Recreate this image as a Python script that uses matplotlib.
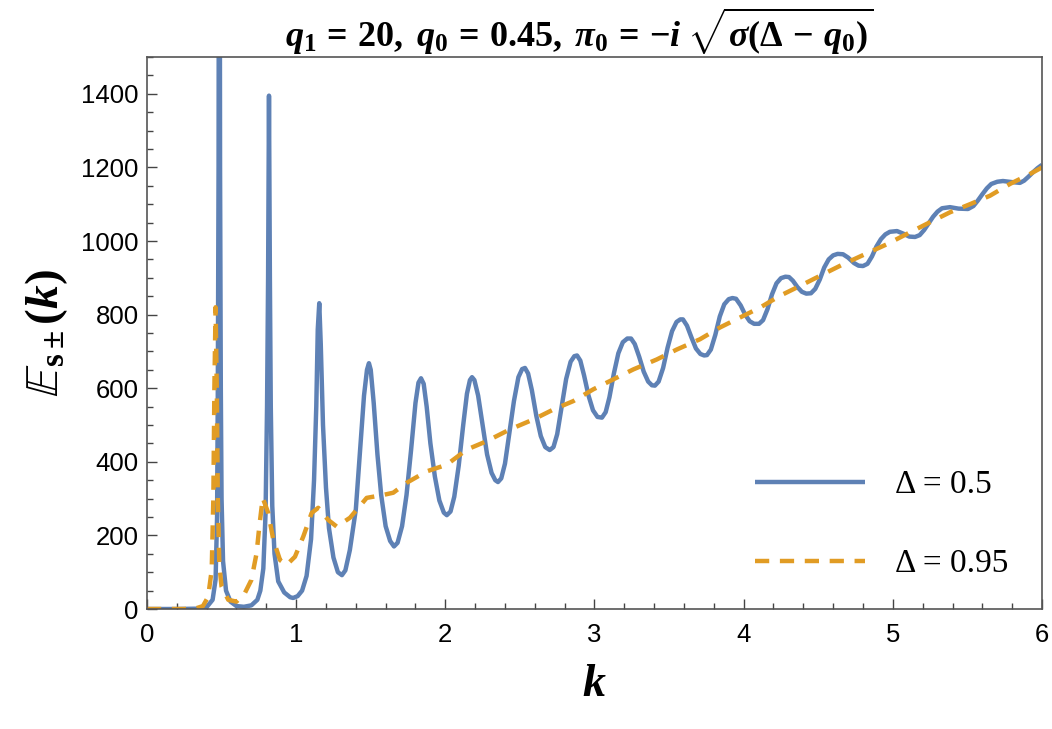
import matplotlib
matplotlib.use("Agg")
import matplotlib.pyplot as plt
from matplotlib.ticker import MultipleLocator

plt.rcParams['mathtext.fontset'] = 'custom'
plt.rcParams['mathtext.rm'] = 'Liberation Serif:bold'
plt.rcParams['mathtext.it'] = 'Liberation Serif:italic:bold'
plt.rcParams['mathtext.bf'] = 'Liberation Serif:bold'

# Delta = 0.5 (solid blue)
k_a = [0.00, 0.20, 0.35, 0.40, 0.44, 0.46, 0.47, 0.475, 0.48, 0.485, 0.49, 0.495,
       0.50, 0.51, 0.53, 0.56, 0.60, 0.65, 0.70, 0.74, 0.76, 0.78, 0.795, 0.805,
       0.812, 0.818, 0.824, 0.83, 0.84, 0.855, 0.88, 0.92, 0.96, 0.98, 1.01, 1.04,
       1.07, 1.10, 1.12, 1.135, 1.145, 1.155, 1.165, 1.18, 1.20, 1.22, 1.25, 1.28,
       1.307, 1.33, 1.36,
       1.40, 1.43, 1.455, 1.475, 1.488, 1.50, 1.52, 1.545, 1.57, 1.60, 1.63, 1.656, 1.68,
       1.71, 1.74, 1.77, 1.80, 1.82, 1.837, 1.855, 1.875, 1.90, 1.93, 1.96, 1.99, 2.01, 2.035,
       2.06, 2.09, 2.12, 2.145, 2.165, 2.179, 2.195, 2.22, 2.25, 2.28, 2.31, 2.335, 2.353, 2.375,
       2.40, 2.43, 2.46, 2.49, 2.515, 2.534, 2.555, 2.58, 2.61, 2.64, 2.67, 2.70, 2.725,
       2.75, 2.78, 2.81, 2.84, 2.865, 2.883, 2.905, 2.93, 2.96, 2.99, 3.02, 3.05, 3.075,
       3.10, 3.13, 3.16, 3.19, 3.22, 3.245, 3.27, 3.30, 3.33, 3.36, 3.385, 3.405, 3.43,
       3.46, 3.49, 3.52, 3.55, 3.575, 3.593, 3.62, 3.65, 3.68, 3.71, 3.735, 3.754, 3.78,
       3.81, 3.84, 3.87, 3.90, 3.925, 3.949, 3.98, 4.01, 4.04, 4.07, 4.103, 4.13,
       4.16, 4.19, 4.22, 4.25, 4.28, 4.304, 4.33, 4.36, 4.39, 4.42, 4.451, 4.48,
       4.51, 4.54, 4.57, 4.60, 4.63, 4.666, 4.70, 4.74, 4.77, 4.80, 4.83, 4.86,
       4.89, 4.92, 4.95, 4.98, 5.028, 5.07, 5.11, 5.149, 5.18, 5.21, 5.24,
       5.27, 5.30, 5.33, 5.383, 5.44, 5.504, 5.54, 5.57, 5.60, 5.63, 5.66, 5.70,
       5.738, 5.80, 5.852, 5.88, 5.91, 5.94, 5.97, 6.00]
E_a = [0, 0, 1, 5, 25, 80, 250, 600, 1200, 3000, 1200, 600,
       300, 130, 50, 20, 8, 6, 10, 25, 50, 110, 260, 550,
       900, 1395, 900, 550, 280, 150, 75, 45, 32, 30, 35, 50,
       90, 190, 350, 550, 760, 831, 720, 500, 330, 220, 140, 100,
       92, 105, 160,
       270, 440, 580, 650, 668, 650, 560, 420, 310, 225, 185, 170, 180,
       225, 310, 430, 560, 615, 627, 612, 550, 450, 360, 295, 262, 255, 265,
       305, 390, 500, 585, 622, 630, 622, 580, 500, 420, 370, 350, 345, 355,
       395, 480, 565, 630, 652, 655, 640, 595, 525, 470, 440, 432, 440,
       475, 550, 625, 672, 687, 689, 675, 635, 580, 540, 522, 520, 535,
       575, 640, 695, 725, 735, 735, 720, 685, 645, 618, 608, 607, 618,
       655, 710, 755, 780, 787, 787, 770, 738, 708, 693, 689, 690, 705,
       745, 795, 828, 842, 845, 843, 825, 800, 782, 775, 775, 785,
       815, 855, 885, 899, 903, 902, 892, 875, 862, 857, 858, 870,
       895, 928, 950, 961, 965, 964, 955, 940, 933, 932, 938, 958,
       985, 1005, 1018, 1025, 1027, 1020, 1012, 1011, 1016, 1030, 1048,
       1066, 1080, 1089, 1092, 1088, 1087, 1095, 1110, 1127, 1143, 1155, 1161,
       1163, 1160, 1158, 1164, 1175, 1187, 1198, 1207]

# Delta = 0.95 (dashed orange)
k_b = [0.00, 0.25, 0.33, 0.375, 0.41, 0.434, 0.445, 0.452, 0.46, 0.468, 0.475,
       0.485, 0.50, 0.545, 0.60, 0.657, 0.70, 0.735, 0.753, 0.776, 0.813, 0.847,
       0.892, 0.937, 0.992, 1.048, 1.104, 1.148, 1.215, 1.272, 1.361, 1.473,
       1.584, 1.651, 1.741, 1.875, 2.009, 2.143, 2.277, 2.433, 2.59, 2.724,
       2.858, 2.992, 3.126, 3.26, 3.417, 3.551, 3.707, 3.841, 3.975, 4.109,
       4.243, 4.378, 4.534, 4.668, 4.802, 4.959, 5.093, 5.249, 5.383, 5.517,
       5.651, 5.785, 5.919, 6.00]
E_b = [0, 0, 2, 8, 33, 106, 300, 600, 820, 600, 300,
       120, 61, 25, 20, 44, 79, 152, 224, 302, 261, 188,
       133, 120, 142, 197, 261, 275, 242, 224, 248, 302,
       310, 316, 343, 374, 392, 433, 456, 488, 515, 542,
       565, 597, 624, 651, 678, 705, 733, 765, 792, 819,
       851, 878, 910, 937, 962, 991, 1019, 1051, 1078, 1100,
       1123, 1155, 1182, 1200]

blue = "#5E81B5"
orange = "#E19C24"

fig = plt.figure(figsize=(10.52, 7.29), dpi=100)
ax = fig.add_axes([0.1397, 0.1646, 0.8508, 0.7572])

ax.plot(k_a, E_a, color=blue, lw=3.2, label="Δ = 0.5",
        solid_joinstyle="round", solid_capstyle="butt")
ax.plot(k_b, E_b, color=orange, lw=3.2, dashes=(3.2, 2.4), label="Δ = 0.95",
        dash_joinstyle="round")

ax.set_xlim(0, 6)
ax.set_ylim(0, 1500)
ax.xaxis.set_major_locator(MultipleLocator(1))
ax.xaxis.set_minor_locator(MultipleLocator(0.2))
ax.yaxis.set_minor_locator(MultipleLocator(50))
ax.set_yticks([0, 200, 400, 600, 800, 1000, 1200, 1400])

ax.tick_params(which="both", direction="in", color="#444444", width=1.0)
ax.tick_params(which="major", length=7, labelsize=18.5)
ax.tick_params(axis="x", which="major", pad=10)
ax.tick_params(axis="y", which="major", pad=6)
ax.tick_params(which="minor", length=4)
for lab in ax.get_xticklabels() + ax.get_yticklabels():
    lab.set_family("Liberation Sans")
for s in ax.spines.values():
    s.set_color("#555555")
    s.set_linewidth(1.2)

ax.set_xlabel(r"$k$", fontsize=33, labelpad=10)
ax.set_ylabel(r"$\mathbb{E}_{\mathbf{s}\pm}(k)$", fontsize=34, labelpad=8)

fig.text(0.551, 0.957,
         r"$q_1\,=\,20,\;q_0\,=\,0.45,\;\pi_0\,=\,{-}i\;\sqrt{\sigma(\Delta\,-\,q_0)}$",
         fontsize=26, ha="center", va="center")

ax.legend(loc="upper left", bbox_to_anchor=(0.679, 0.252), frameon=False,
          prop={"family": "Liberation Serif", "size": 24},
          handlelength=3.3, handletextpad=0.9, labelspacing=1.45,
          borderpad=0, borderaxespad=0)

fig.savefig("out.png", dpi=100)
